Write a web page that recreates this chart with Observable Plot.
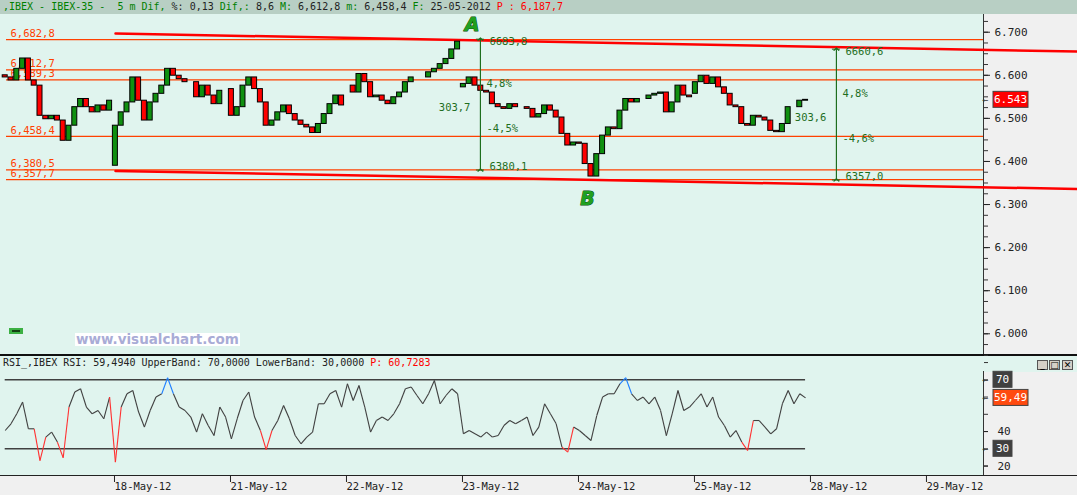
<!DOCTYPE html>
<html><head><meta charset="utf-8">
<script src="https://cdn.jsdelivr.net/npm/d3@7"></script>
<script src="https://cdn.jsdelivr.net/npm/@observablehq/plot@0.6"></script>
<style>
body{margin:0;width:1077px;height:495px;overflow:hidden;position:relative;background:#f0f0f0;font-family:"DejaVu Sans Mono",monospace;}
.a{position:absolute;}
#hdr{left:0;top:0;width:1077px;height:14px;background:#b8cfc4;font-size:10px;line-height:14px;white-space:pre;padding-left:3px;box-sizing:border-box;color:#222}
.g{color:#008000}.k{color:#222}.r{color:#ff0000}
#mainBg{left:0;top:14px;width:983px;height:341px;background:#e0f4ee}
#rsiHdrBg{left:0;top:356px;width:1077px;height:16px;background:#e0f4ee}
#rsiBg{left:0;top:372px;width:983px;height:103px;background:#e0f4ee}
#vline1{left:983px;top:14px;width:1px;height:341px;background:#333}
#vline2{left:983px;top:371px;width:1px;height:104px;background:#333}
#divider{left:0;top:354px;width:1077px;height:2px;background:#111}
#bottomLine{left:0;top:475px;width:1077px;height:1px;background:#222}
#rsiHdr{left:3px;top:357px;font-size:10px;line-height:12px;white-space:pre;color:#222}
#wm{left:75px;top:333px;height:13px;padding:0 1px;background:#fff;color:#a9acd6;font:bold 13.5px "DejaVu Sans",sans-serif;line-height:13px;white-space:nowrap}
#gbox{left:9px;top:328px;width:14px;height:6px;background:#3cb043;}
#gbox div{position:absolute;left:3px;top:2px;width:8px;height:2px;background:#124012}
.btn{top:360px;width:11px;height:10px;background:#d4d0c8;border:1px solid #555;box-sizing:border-box;font:bold 9px "DejaVu Sans",sans-serif;line-height:8px;text-align:center;color:#000}
svg{position:absolute;left:0}
</style></head><body>
<div class="a" id="hdr"><span class="g">,IBEX - IBEX-35 -  5 m Dif, </span><span class="k">%: 0,13</span><span class="g"> Dif,: </span><span class="k">8,6</span><span class="g"> M: </span><span class="k">6,612,8</span><span class="g"> m: </span><span class="k">6,458,4</span><span class="g"> F: </span><span class="k">25-05-2012</span><span class="r"> P : 6,187,7</span></div>
<div class="a" id="mainBg"></div>
<div class="a" id="rsiHdrBg"></div>
<div class="a" id="rsiBg"></div>
<div class="a" id="vline1"></div>
<div class="a" id="vline2"></div>
<div class="a" id="divider"></div>
<div class="a" id="bottomLine"></div>
<div id="mainHost"></div>
<div id="rsiHost"></div>
<div class="a" id="rsiHdr">RSI_,IBEX RSI: 59,4940 UpperBand: 70,0000 LowerBand: 30,0000 <span class="r">P: 60,7283</span></div>
<div class="a btn" style="left:1037px">_</div>
<div class="a btn" style="left:1049px">□</div>
<div class="a btn" style="left:1062px">✕</div>
<div class="a" id="wm">www.visualchart.com</div>
<div class="a" id="gbox"><div></div></div>
<script>
// ---------- data ----------
const dayLabels = ["17-May-12","18-May-12","21-May-12","22-May-12","23-May-12","24-May-12","25-May-12","28-May-12","29-May-12"];
const slotsPerDay = 20;
const firstSlot = [1,0,0,0,0,0,0];
const dayOpen = [6600, 6390, 6568, 6576, 6572, 6444, 6557];
const close17 = [6595,6588,6615,6639,6588,6576,6506,6498,6506,6495,6448,6483,6526,6545,6526,6514,6530,6518,6541];
const close18 = [6483,6514,6537,6595,6541,6495,6537,6557,6576,6615,6599,6591,6584,6584,6549,6576,6553,6533,6564,6564];
const close21 = [6506,6526,6576,6595,6568,6537,6483,6495,6514,6530,6510,6495,6485,6479,6466,6487,6510,6533,6553,6530];
const close22 = [6576,6560,6603,6584,6549,6553,6541,6533,6549,6560,6584,6595,6595,6595,6607,6615,6626,6638,6660,6678];
const close23 = [6580,6595,6576,6564,6560,6533,6526,6522,6533,6526,6526,6522,6502,6510,6530,6518,6502,6464,6437,6444];
const close24 = [6441,6394,6365,6417,6460,6479,6475,6518,6545,6537,6545,6545,6553,6557,6560,6514,6537,6576,6553,6549];
const close25 = [6584,6599,6580,6595,6572,6557,6530,6526,6487,6483,6506,6502,6495,6471,6468,6487,6526,6526,6541,6543];
const rsi17 = [40.6,44.5,50.3,57.1,41.6,41.6,23.2,36.8,39.7,33.9,24.8,54.2,62.9,64.8,54.2,50.3,52.2,47.4,60.0];
const rsi18 = [22.3,54.2,61.9,63.8,51.3,42.6,52.2,60.0,61.9,71.2,61.9,54.2,52.2,48.4,39.7,50.3,43.5,37.7,54.2,48.4];
const rsi21 = [35.8,47.4,58.0,62.9,48.4,40.6,29.5,40.6,46.4,55.1,47.4,37.7,32.9,36.8,39.7,56.1,56.1,61.9,63.8,54.2];
const rsi22 = [67.7,58.0,66.7,54.2,39.7,46.4,48.4,46.4,50.3,56.1,64.8,65.8,60.9,56.1,61.9,69.6,56.1,60.9,64.8,61.9];
const rsi23 = [38.7,40.6,38.7,36.8,39.7,36.8,37.7,43.5,46.4,44.5,46.4,48.4,37.7,42.6,56.1,50.3,44.5,31.0,28.1,42.6];
const rsi24 = [40.6,37.7,34.8,49.3,60.0,61.9,61.9,67.7,71.2,61.9,58.0,60.0,56.1,60.0,52.2,37.7,50.3,63.8,52.2,54.2];
const rsi25 = [58.0,61.9,54.2,60.0,48.4,43.5,36.8,40.6,33.9,29.0,46.4,46.4,42.6,38.7,41.6,56.1,63.8,56.1,61.9,59.5];
const levels = [6682.8, 6612.7, 6589.3, 6458.4, 6380.5, 6357.7];
const channelX = [1.026, 9.319];
const channelUpper = [6697, 6655];
const channelLower = [6378, 6336];
const moveX = [4.172, 7.241];
const moveTop = [6683.8, 6660.6];
const moveBottom = [6380.1, 6357.0];
const pivotLabel = ["A", "B"];
const pivotX = [4.10, 5.095];
const pivotY = [6683.8, 6357.0];
const pivotAbove = [true, false];
const lastPrice = 6543;
const priceTicks = [6000, 6100, 6200, 6300, 6400, 6500, 6600, 6700];
const rsiLast = 59.49;
const rsiUpper = 70, rsiLower = 30;
const rsiTicks = [20, 30, 40, 50, 60, 70, 80];
const rsiLabelTicks = [20, 40];

// ---------- derived tables ----------
const dayCloses = [close17, close18, close21, close22, close23, close24, close25];
const dayRsi = [rsi17, rsi18, rsi21, rsi22, rsi23, rsi24, rsi25];
const candles = [];
const rsiPts = [];
dayCloses.forEach((arr, di) => {
  let prev = dayOpen[di];
  arr.forEach((c, j) => {
    const slot = firstSlot[di] + j;
    candles.push({x1: di + slot / slotsPerDay, x2: di + (slot + 1) / slotsPerDay, open: prev, close: c});
    rsiPts.push({x: di + (slot + 0.5) / slotsPerDay, v: dayRsi[di][j]});
    prev = c;
  });
});
const rsiSegs = rsiPts.slice(1).map((p, i) => ({a: rsiPts[i], b: p}));
const channels = channelX.flatMap((x, i) => [{x, y: channelUpper[i], k: "u"}, {x, y: channelLower[i], k: "l"}]);
const moves = moveX.map((x, i) => ({x, top: moveTop[i], bottom: moveBottom[i], mid: (moveTop[i] + moveBottom[i]) / 2}));
const pivots = pivotLabel.map((t, i) => ({t, x: pivotX[i], y: pivotY[i], above: pivotAbove[i]}));
const firstX = rsiPts[0].x, lastX = rsiPts[rsiPts.length - 1].x;

const comma = v => v.toFixed(1).replace(".", ",");
const fmtLevel = v => { const s = comma(v); return s[0] + "," + s.slice(1); };
const fmtAxis = v => d3.format(",")(v).replace(",", ".");
const pct = v => v.toFixed(1).replace(".", ",") + "%";

const ORANGE = "#ff4000", DG = "#1e6e1e", RED = "#ff0000", GREEN = "#109010";
const font = '"DejaVu Sans Mono", monospace';
const pivotStyle = {x: "x", y: "y", text: "t", fontSize: 19, fontWeight: "bold", fontStyle: "italic",
  fontFamily: '"DejaVu Sans", sans-serif', fill: "#20a020", stroke: "#0b4a0b", strokeWidth: 1};

// ---------- main price panel ----------
const main = Plot.plot({
  width: 1077, height: 341,
  marginLeft: 0, marginRight: 94, marginTop: 0, marginBottom: 0,
  x: {domain: [0.0345, 8.509], axis: null},
  y: {domain: [5949.6, 6741.1], axis: null},
  style: {background: "transparent", overflow: "visible", fontFamily: font, fontSize: "10px"},
  marks: [
    Plot.ruleY(levels, {stroke: ORANGE, strokeWidth: 1.2, insetLeft: 6}),
    Plot.text(levels, {y: d => d, text: fmtLevel, frameAnchor: "left", dx: 10, dy: -6, textAnchor: "start", fill: ORANGE, fontSize: 10.5}),
    Plot.line(channels, {x: "x", y: "y", z: "k", stroke: RED, strokeWidth: 2.5}),
    Plot.rect(candles, {x1: "x1", x2: "x2", y1: "open", y2: "close", insetLeft: 0.4, insetRight: 0.4,
      fill: d => d.close >= d.open ? GREEN : RED, stroke: "#000", strokeWidth: 1}),
    Plot.link(moves, {x1: "x", x2: "x", y1: "bottom", y2: "top", stroke: DG, strokeWidth: 1.2, markerStart: "arrow", markerEnd: "arrow"}),
    Plot.ruleY(moves, {y: "top", x1: "x", x2: "x", insetLeft: -4, insetRight: -4, stroke: DG}),
    Plot.ruleY(moves, {y: "bottom", x1: "x", x2: "x", insetLeft: -4, insetRight: -4, stroke: DG}),
    Plot.text(moves, {x: "x", y: "top", text: d => comma(d.top), dx: 9, dy: 2, textAnchor: "start", fill: DG, fontSize: 10.5}),
    Plot.text(moves, {x: "x", y: "bottom", text: d => comma(d.bottom), dx: 9, dy: -3, textAnchor: "start", fill: DG, fontSize: 10.5}),
    Plot.text(moves, {x: "x", y: "mid", text: d => pct((d.top - d.bottom) / d.bottom * 100), dx: 6, dy: -21, textAnchor: "start", fill: DG, fontSize: 10.5}),
    Plot.text(moves, {x: "x", y: "mid", text: d => comma(d.top - d.bottom), dx: -10, dy: 3, textAnchor: "end", fill: DG, fontSize: 10.5}),
    Plot.text(moves, {x: "x", y: "mid", text: d => pct(-(d.top - d.bottom) / d.top * 100), dx: 6, dy: 24, textAnchor: "start", fill: DG, fontSize: 10.5}),
    Plot.text(pivots.filter(d => d.above), {...pivotStyle, dy: -14}),
    Plot.text(pivots.filter(d => !d.above), {...pivotStyle, dy: 19}),
    Plot.axisY({anchor: "right", ticks: d3.range(5950, 6741, 25), tickSize: 4, tickFormat: () => "", color: "#333", label: null}),
    Plot.axisY({anchor: "right", ticks: priceTicks, tickSize: 6, tickPadding: 5, tickFormat: fmtAxis, color: "#222", fontSize: 11, label: null})
  ]
});
document.getElementById("mainHost").append(main);
d3.select(main).style("top", "14px");
{
  const sy = main.scale("y"), g = d3.select(main).append("g");
  const cy = sy.apply(lastPrice);
  g.append("text").attr("x", 985).attr("y", cy).attr("dy", "0.35em").attr("font-size", 10).attr("fill", "#333").text("←");
  g.append("rect").attr("x", 993).attr("y", cy - 8).attr("width", 35).attr("height", 16).attr("fill", "#ff0000").attr("stroke", "#444");
  g.append("text").attr("x", 1010.5).attr("y", cy).attr("dy", "0.36em").attr("text-anchor", "middle").attr("font-size", 11).attr("fill", "#fff").text(fmtAxis(lastPrice));
}

// ---------- RSI panel ----------
const rsi = Plot.plot({
  width: 1077, height: 140,
  marginLeft: 0, marginRight: 94, marginTop: 0, marginBottom: 20,
  x: {domain: [0.0345, 8.509]},
  y: {domain: [14.52, 84.09], axis: null},
  style: {background: "transparent", overflow: "visible", fontFamily: font, fontSize: "10px"},
  marks: [
    Plot.ruleY([rsiUpper, rsiLower], {x1: firstX, x2: lastX, stroke: "#404040", strokeWidth: 1.5}),
    Plot.link(rsiSegs, {x1: d => d.a.x, y1: d => d.a.v, x2: d => d.b.x, y2: d => d.b.v, strokeWidth: 1.1,
      stroke: d => (d.a.v < rsiLower || d.b.v < rsiLower) ? "#ff3030" : (d.a.v > rsiUpper || d.b.v > rsiUpper) ? "#1e7fff" : "#404040"}),
    Plot.axisX({ticks: [1, 2, 3, 4, 5, 6, 7, 8], tickFormat: d => dayLabels[d], tickSize: 7, tickPadding: 0, textAnchor: "start", dx: 2, color: "#222", fontSize: 10.5, label: null}),
    Plot.axisY({anchor: "right", ticks: rsiTicks, tickSize: 4, tickFormat: () => "", color: "#333", label: null}),
    Plot.axisY({anchor: "right", ticks: rsiLabelTicks, tickSize: 4, tickPadding: 10, tickFormat: d => String(d), color: "#222", fontSize: 11, label: null})
  ]
});
document.getElementById("rsiHost").append(rsi);
d3.select(rsi).style("top", "355px");
{
  const sy = rsi.scale("y"), g = d3.select(rsi).append("g");
  const boxes = [
    {v: rsiUpper, t: "70", bg: "#404040", w: 19},
    {v: rsiLast, t: rsiLast.toFixed(2).replace(".", ","), bg: "#ff4a10", w: 35},
    {v: rsiLower, t: "30", bg: "#404040", w: 19}
  ];
  boxes.forEach(b => {
    const cy = sy.apply(b.v);
    g.append("text").attr("x", 985).attr("y", cy).attr("dy", "0.35em").attr("font-size", 10).attr("fill", "#333").text("←");
    g.append("rect").attr("x", 993).attr("y", cy - 8).attr("width", b.w).attr("height", 16).attr("fill", b.bg).attr("stroke", "#444");
    g.append("text").attr("x", 993 + b.w / 2).attr("y", cy).attr("dy", "0.36em").attr("text-anchor", "middle").attr("font-size", 11).attr("fill", "#fff").text(b.t);
  });
}
</script>
</body></html>
